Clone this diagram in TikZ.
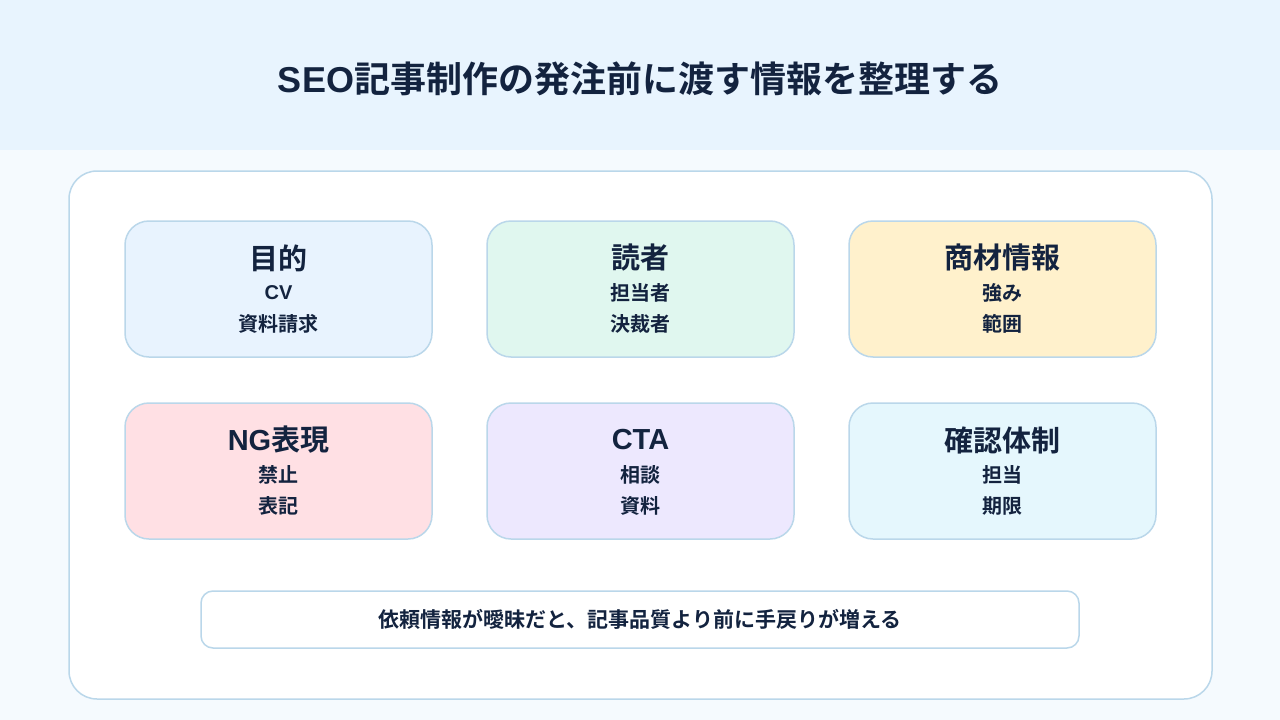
\documentclass[tikz,border=0pt]{standalone}
\usepackage{fontspec}
\setmainfont{Noto Sans CJK JP}[BoldFont={* Bold}]
\newfontfamily\latinb{Liberation Sans}[BoldFont={* Bold}]
\definecolor{ink}{HTML}{13233F}
\definecolor{hdr}{HTML}{E8F4FE}
\definecolor{bgc}{HTML}{F5FAFE}
\definecolor{edge}{HTML}{BAD7EA}
\definecolor{cblue}{HTML}{E8F3FE}
\definecolor{cgreen}{HTML}{E0F7EF}
\definecolor{cyellow}{HTML}{FFF1CC}
\definecolor{cpink}{HTML}{FFE0E4}
\definecolor{cpurple}{HTML}{EDE8FE}
\definecolor{ccyan}{HTML}{E5F7FD}
\newcommand{\lt}[1]{{\latinb\bfseries #1}}
\begin{document}
\begin{tikzpicture}[x=1pt,y=-1pt,
  card/.style={draw=edge,line width=1.5pt,rounded corners=24pt,minimum width=307pt,minimum height=136pt,inner sep=0pt},
  head/.style={font=\fontsize{29}{34}\selectfont\bfseries,text=ink},
  sub/.style={font=\fontsize{20}{24}\selectfont\bfseries,text=ink}]
\useasboundingbox (0,0) rectangle (1280,720);
\fill[bgc] (0,0) rectangle (1280,720);
\fill[hdr] (0,0) rectangle (1280,150);
\node[font=\fontsize{36}{42}\selectfont\bfseries,text=ink] (title) at (640,79) {\lt{SEO}記事制作の発注前に渡す情報を整理する};
\node[draw=edge,fill=white,line width=1.5pt,rounded corners=28pt,minimum width=1143pt,minimum height=528pt] (main) at (640.5,435) {};
\foreach \nm/\cx/\cy/\col/\h/\a/\b in {
  purpose/278.5/289/cblue/目的/\lt{CV}/資料請求,
  reader/640.5/289/cgreen/読者/担当者/決裁者,
  product/1002.5/289/cyellow/商材情報/強み/範囲,
  ng/278.5/471/cpink/\lt{NG}表現/禁止/表記,
  cta/640.5/471/cpurple/\lt{CTA}/相談/資料,
  check/1002.5/471/ccyan/確認体制/担当/期限}{
  \node[card,fill=\col] (\nm) at (\cx,\cy) {};
  \node[head] (\nm-h) at (\cx,\cy-31) {\h};
  \node[sub] (\nm-a) at (\cx,\cy+4) {\a};
  \node[sub] (\nm-b) at (\cx,\cy+35) {\b};
}
\node[draw=edge,fill=white,line width=1.5pt,rounded corners=12pt,minimum width=878pt,minimum height=57pt,font=\fontsize{21}{25}\selectfont\bfseries,text=ink] (note) at (640,619.5) {依頼情報が曖昧だと、記事品質より前に手戻りが増える};
\end{tikzpicture}
\end{document}
